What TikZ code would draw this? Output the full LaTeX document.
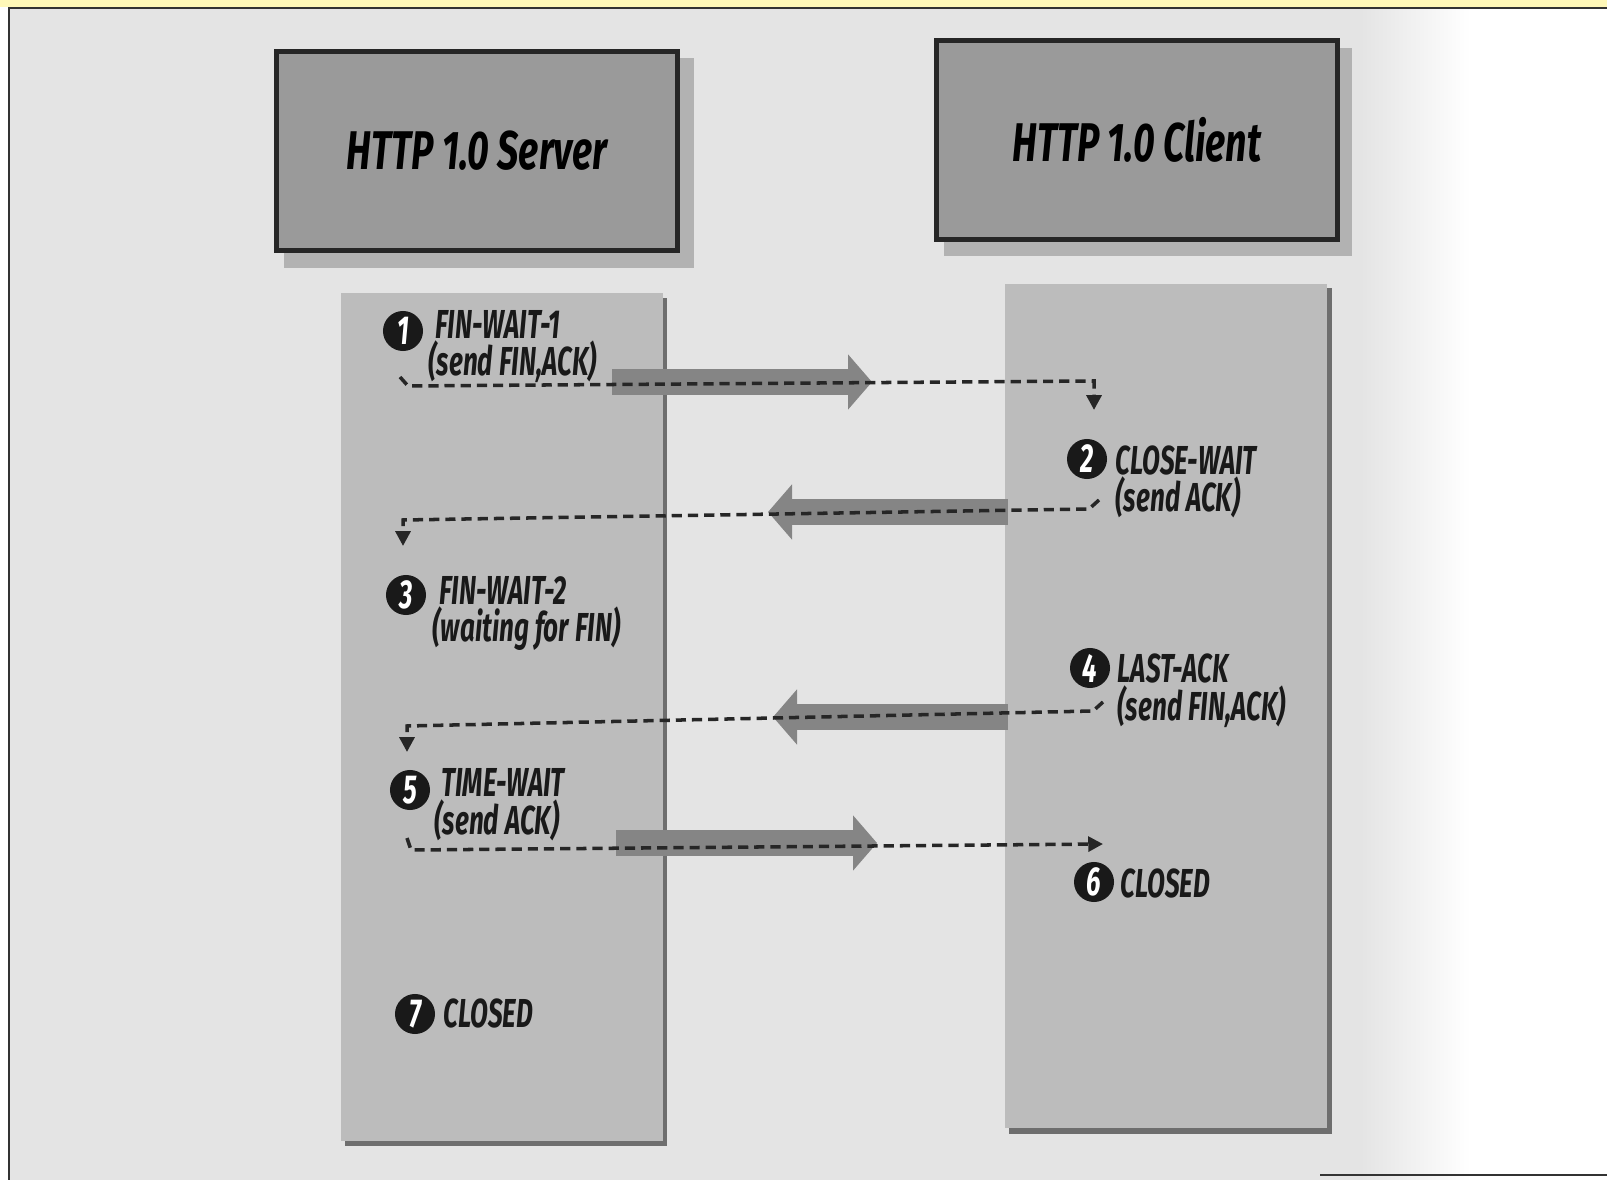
\documentclass[tikz,border=0pt]{standalone}
\usepackage{fontspec}
\newfontfamily\labelfont[FakeStretch=0.645]{Fira Sans}
\newfontfamily\headfont[FakeStretch=0.69]{Fira Sans}
\usetikzlibrary{arrows.meta}

\definecolor{pagegray}{HTML}{E4E4E4}
\definecolor{boxgray}{HTML}{9A9A9A}
\definecolor{colgray}{HTML}{BCBCBC}
\definecolor{colshade}{HTML}{6E6E6E}
\definecolor{thickgray}{HTML}{858585}
\definecolor{stripyellow}{HTML}{FFF8B8}

\tikzset{
  header/.style={draw=black!85, line width=1.4pt, fill=boxgray,
    minimum width=4.0cm, minimum height=1.98cm,
    font=\headfont\bfseries\itshape\fontsize{15.5pt}{18pt}\selectfont},
  column/.style={fill=colgray, inner sep=0pt},
  statenum/.style={circle, fill=black!90, text=white, inner sep=0pt,
    minimum size=0.4cm, font=\labelfont\bfseries\itshape\fontsize{11.5pt}{11.5pt}\selectfont},
  statetext/.style={anchor=base west, align=left, inner sep=0pt,
    font=\labelfont\bfseries\itshape\fontsize{11.5pt}{10.6pt}\selectfont, text=black!90,
    execute at begin node={\lineskiplimit=-100pt\baselineskip=10.6pt}},
  segment/.style={line width=0.26cm, draw=thickgray,
    -{Triangle[length=0.24cm, width=0.54cm]}},
  flow/.style={line width=1pt, draw=black!85, dash pattern=on 2.9pt off 1.7pt,
    -{Triangle[length=4.2pt, width=4.2pt]}},
}

\begin{document}
\begin{tikzpicture}[x=0.01cm, y=-0.01cm]
  % page
  \useasboundingbox (0,0) rectangle (1607,1180);
  \fill[white] (0,0) rectangle (1607,1180);
  \fill[pagegray] (10,8) rectangle (1360,1180);
  \shade[left color=pagegray, right color=white] (1360,8) rectangle (1470,1180);
  \fill[stripyellow] (0,0) rectangle (1607,7);
  % frame
  \draw[line width=0.75pt, black!80] (9,1180) -- (9,8) -- (1607,8);
  \draw[line width=0.75pt, black!80] (1320,1175) -- (1607,1175);

  % header boxes with shadows
  \fill[black!45] (288,62) rectangle (690,264);
  \fill[black!30] (284,58) rectangle (694,268);
  \node[header] (server) at (477,151) {HTTP 1.0 Server};
  \fill[black!45] (948,52) rectangle (1348,252);
  \fill[black!30] (944,48) rectangle (1352,256);
  \node[header] (client) at (1137,140) {HTTP 1.0 Client};

  % timeline columns
  \fill[colshade] (345,298) rectangle (667,1146);
  \node[column, minimum width=3.21cm, minimum height=8.47cm] (scol) at (502,717) {};
  \fill[colshade] (1009,288) rectangle (1332,1134);
  \node[column, minimum width=3.22cm, minimum height=8.44cm] (ccol) at (1166,706) {};

  % segment arrows between the columns
  \coordinate (s1a) at (612,382);  \coordinate (s1b) at (872,382);
  \coordinate (s2a) at (1008,512); \coordinate (s2b) at (768,512);
  \coordinate (s3a) at (1008,717); \coordinate (s3b) at (773,717);
  \coordinate (s4a) at (616,843);  \coordinate (s4b) at (877,843);
  \draw[segment] (s1a) -- (s1b);
  \draw[segment] (s2a) -- (s2b);
  \draw[segment] (s3a) -- (s3b);
  \draw[segment] (s4a) -- (s4b);

  % state markers
  \node[statenum] (n1) at (403,331) {1};
  \node[statenum] (n2) at (1087,459) {2};
  \node[statenum] (n3) at (406,595) {3};
  \node[statenum] (n4) at (1090,668) {4};
  \node[statenum] (n5) at (410,790) {5};
  \node[statenum] (n6) at (1094,882) {6};
  \node[statenum] (n7) at (415,1014) {7};

  % state names; each anchor sits on the baseline of the last line
  \node[statetext] (t1) at (428,376) {\,FIN-WAIT-1\\(send FIN,ACK)};
  \node[statetext] (t2) at (1115,512) {CLOSE-WAIT\\(send ACK)};
  \node[statetext] (t3) at (432,642) {\,FIN-WAIT-2\\(waiting for FIN)};
  \node[statetext] (t4) at (1117,720) {LAST-ACK\\(send FIN,ACK)};
  \node[statetext] (t5) at (434,834) {\,TIME-WAIT\\(send ACK)};
  \node[statetext] (t6) at (1120,897) {CLOSED};
  \node[statetext] (t7) at (443,1027) {CLOSED};

  % state transition paths
  \coordinate (d1a) at (400,377);  \coordinate (d1b) at (408,386);
  \coordinate (d1c) at (1094,381); \coordinate (d1d) at (1094,410);
  \draw[flow] (d1a) -- (d1b) -- (d1c) -- (d1d);

  \coordinate (d2a) at (1099,500); \coordinate (d2b) at (1089,509);
  \coordinate (d2c) at (403,520);  \coordinate (d2d) at (403,546);
  \draw[flow] (d2a) -- (d2b) -- (d2c) -- (d2d);

  \coordinate (d3a) at (1103,702); \coordinate (d3b) at (1093,711);
  \coordinate (d3c) at (407,726);  \coordinate (d3d) at (407,752);
  \draw[flow] (d3a) -- (d3b) -- (d3c) -- (d3d);

  \coordinate (d4a) at (407,838);  \coordinate (d4b) at (411,850);
  \coordinate (d4c) at (1103,844);
  \draw[flow] (d4a) -- (d4b) -- (d4c);
\end{tikzpicture}
\end{document}
